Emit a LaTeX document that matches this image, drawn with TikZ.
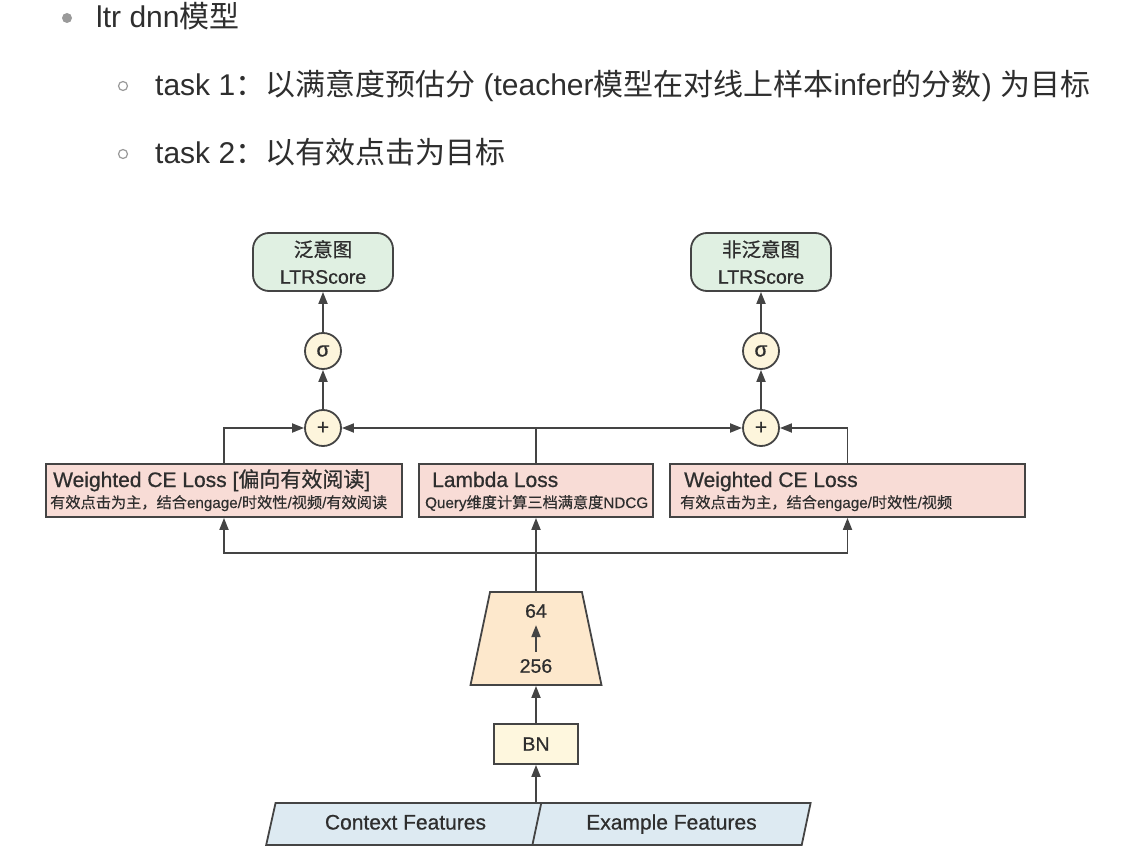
\documentclass[tikz,border=0pt]{standalone}
\usepackage{fontspec}
\setmainfont{Liberation Sans}
\newfontfamily\cjk{Noto Sans CJK SC}
\newfontfamily\medsans{Liberation Sans}[FakeBold=0.7]
\newfontfamily\cjkmed{Noto Sans CJK SC}[FakeBold=0.7]
\newfontfamily\subsans{Liberation Sans}[FakeBold=0.3]
\newfontfamily\cjksub{Noto Sans CJK SC}[FakeBold=0.3]
\usetikzlibrary{arrows.meta,shapes.geometric,positioning}
\definecolor{linegray}{HTML}{444444}
\definecolor{txtgray}{HTML}{2E2E2E}
\definecolor{bulletgray}{HTML}{9A9A9A}
\definecolor{outgreen}{HTML}{E0F0E2}
\definecolor{losspink}{HTML}{F8DCD6}
\definecolor{opyellow}{HTML}{FDF5DC}
\definecolor{mlporange}{HTML}{FDE8CC}
\definecolor{bnyellow}{HTML}{FEF7DE}
\definecolor{featblue}{HTML}{DDEAF2}

\begin{document}
\begin{tikzpicture}[x=1pt,y=-1pt,
  arr/.style={-{Triangle[length=12pt,width=9pt]},line width=1.8pt,linegray},
  toptext/.style={anchor=base west,inner sep=0pt,text=txtgray,font=\fontsize{30}{35}\selectfont},
  outbox/.style={draw=linegray,line width=1.8pt,fill=outgreen,rounded corners=16pt,
    minimum width=140pt,minimum height=58pt,align=center,text=txtgray,
    font=\medsans\fontsize{19.5}{27}\selectfont},
  opnode/.style={circle,draw=linegray,line width=1.8pt,fill=opyellow,minimum size=36pt,
    inner sep=0pt,text=txtgray},
  lossbox/.style={draw=linegray,line width=1.8pt,fill=losspink,minimum height=53pt},
  losstitle/.style={anchor=base west,inner sep=0pt,text=txtgray,font=\medsans\fontsize{21}{21}\selectfont},
  losssub/.style={anchor=base west,inner sep=0pt,text=txtgray,font=\subsans\fontsize{15.2}{15}\selectfont},
  layertext/.style={inner sep=7pt,text=txtgray,font=\medsans\fontsize{19.5}{20}\selectfont},
  featbox/.style={trapezium,trapezium left angle=73,trapezium right angle=107,
    trapezium stretches=true,draw=linegray,line width=1.8pt,fill=featblue,
    minimum width=279pt,minimum height=42pt,inner sep=0pt,text=txtgray,
    text height=15pt,text depth=4pt,font=\medsans\fontsize{21}{21}\selectfont}]
\useasboundingbox (0,0) rectangle (1146,856);

% bullet list
\fill[bulletgray] (67,18) circle (5pt);
\draw[bulletgray,line width=1.2pt] (123,86) circle (4.5pt);
\draw[bulletgray,line width=1.2pt] (123,154) circle (4.5pt);
\node[toptext] (title) at (96,28) {ltr dnn{\cjk 模型}};
\node[toptext] (taskone) at (155,96) {task 1{\cjk ：以满意度预估分} (teacher{\cjk 模型在对线上样本}infer{\cjk 的分数}) {\cjk 为目标}};
\node[toptext] (tasktwo) at (155,164) {task 2{\cjk ：以有效点击为目标}};

% outputs
\node[outbox] (outL) at (323,262) {{\cjkmed 泛意图}\\LTRScore};
\node[outbox] (outR) at (761,262) {{\cjkmed 非泛意图}\\LTRScore};
\node[opnode,font=\medsans\fontsize{21}{21}\selectfont] (sigL) at (323,351) {σ};
\node[opnode,font=\medsans\fontsize{21}{21}\selectfont] (sigR) at (761,351) {σ};
\node[opnode,font=\medsans\fontsize{21}{21}\selectfont] (plusL) at (323,428) {+};
\node[opnode,font=\medsans\fontsize{21}{21}\selectfont] (plusR) at (761,428) {+};

% losses
\node[lossbox,minimum width=356pt] (lossL) at (224,490.5) {};
\node[lossbox,minimum width=234pt] (lambda) at (536,490.5) {};
\node[lossbox,minimum width=355pt] (lossR) at (847.5,490.5) {};
\node[losstitle] (lossLt) at (53,487) {Weighted CE Loss [{\cjkmed 偏向有效阅读}]};
\node[losssub] (lossLs) at (50,508) {{\cjksub 有效点击为主，结合}engage/{\cjksub 时效性}/{\cjksub 视频}/{\cjksub 有效阅读}};
\node[losstitle] (lambdat) at (432,487) {Lambda Loss};
\node[losssub] (lambdas) at (425,508) {Query{\cjksub 维度计算三档满意度}NDCG};
\node[losstitle] (lossRt) at (684,487) {Weighted CE Loss};
\node[losssub] (lossRs) at (680,508) {{\cjksub 有效点击为主，结合}engage/{\cjksub 时效性}/{\cjksub 视频}};

% shared tower
\node[trapezium,trapezium angle=78,trapezium stretches=true,draw=linegray,line width=1.8pt,
  fill=mlporange,minimum width=131pt,minimum height=93pt] (mlp) at (536,638.5) {};
\node[layertext] (top64) at (536,611) {64};
\node[layertext] (bot256) at (536,666) {256};
\node[draw=linegray,line width=1.8pt,fill=bnyellow,minimum width=84pt,minimum height=40pt,
  text=txtgray,font=\medsans\fontsize{19.5}{20}\selectfont] (bn) at (536,744) {BN};
\node[featbox] (ctx) at (405.5,824) {Context Features};
\node[featbox] (expl) at (671.5,824) {Example Features};

% connectors
\draw[arr] (ctx.north -| bn.south) -- (bn.south);
\draw[arr] (bn.north) -- (mlp.south);
\draw[arr] (bot256.north) -- (top64.south);
\coordinate (bus) at (536,553);
\draw[arr] (mlp.north) -- (lambda.south);
\draw[arr] (bus) -| (lossL.south);
\draw[arr] (bus) -| (lossR.south);
\coordinate (split) at (lambda.north |- plusL.center);
\draw[line width=1.8pt,linegray] (lambda.north) -- (split);
\draw[arr] (split) -- (plusL.east);
\draw[arr] (split) -- (plusR.west);
\draw[arr] (lossL.north) |- (plusL.west);
\draw[arr] (lossR.north) |- (plusR.east);
\draw[arr] (plusL) -- (sigL);
\draw[arr] (plusR) -- (sigR);
\draw[arr] (sigL) -- (outL);
\draw[arr] (sigR) -- (outR);
\end{tikzpicture}
\end{document}
